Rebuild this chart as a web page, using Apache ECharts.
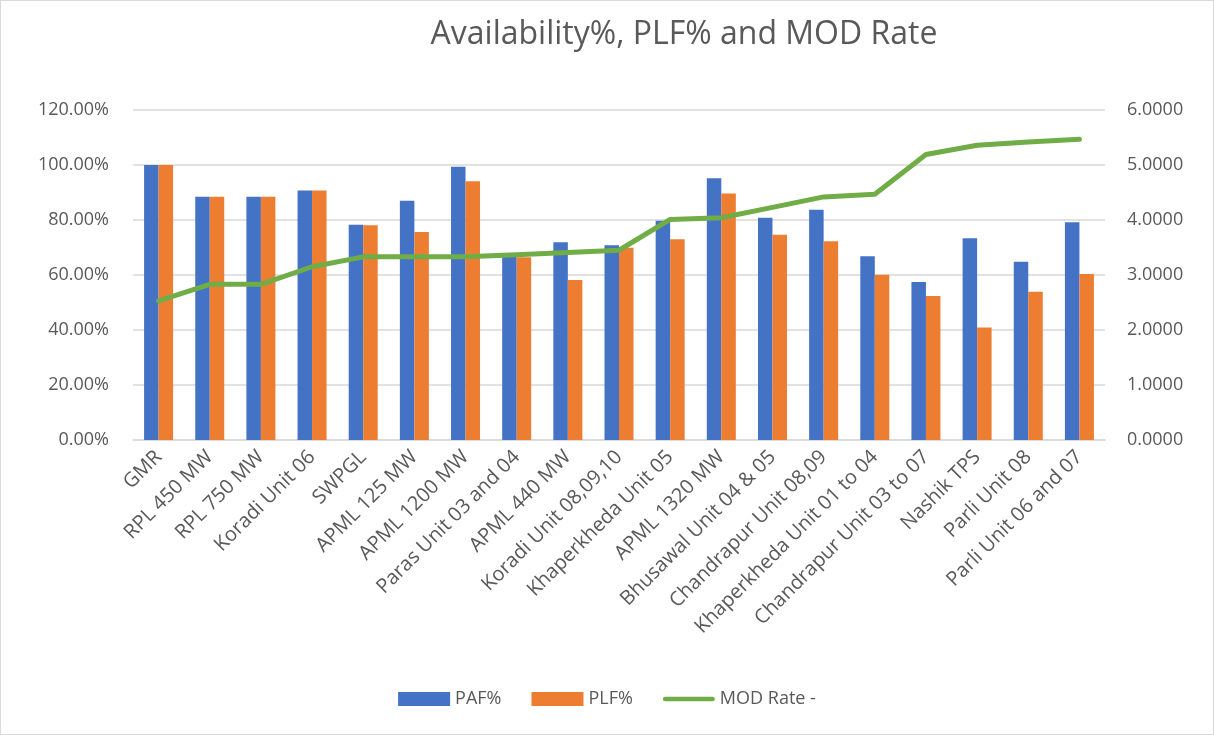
<!DOCTYPE html>
<html>
<head>
<meta charset="utf-8">
<script src="https://cdn.jsdelivr.net/npm/echarts@6/dist/echarts.min.js"></script>
<style>
  html, body { margin: 0; padding: 0; background: #fff; }
  #main { width: 1212px; height: 733px; border: 1px solid #d9d9d9; }
</style>
</head>
<body>
<div id="main"></div>
<script>
// plants, sorted by MOD rate
const categories = [
  'GMR', 'RPL 450 MW', 'RPL 750 MW', 'Koradi Unit 06', 'SWPGL', 'APML 125 MW',
  'APML 1200 MW', 'Paras Unit 03 and 04', 'APML 440 MW', 'Koradi Unit 08,09,10',
  'Khaperkheda Unit 05', 'APML 1320 MW', 'Bhusawal Unit 04 & 05', 'Chandrapur Unit 08,09',
  'Khaperkheda Unit 01 to 04', 'Chandrapur Unit 03 to 07', 'Nashik TPS', 'Parli Unit 08',
  'Parli Unit 06 and 07'
];
// values in fraction (1 = 100%)
const pafValues = [1.000, 0.885, 0.885, 0.907, 0.783, 0.870, 0.994, 0.668, 0.719, 0.708,
  0.797, 0.952, 0.808, 0.837, 0.668, 0.575, 0.734, 0.648, 0.792];
const plfValues = [1.000, 0.885, 0.885, 0.907, 0.781, 0.756, 0.941, 0.665, 0.582, 0.699,
  0.730, 0.896, 0.746, 0.723, 0.601, 0.524, 0.409, 0.539, 0.604];
const modRate = [2.53, 2.83, 2.83, 3.15, 3.33, 3.33, 3.33, 3.37, 3.41, 3.45,
  4.01, 4.04, 4.23, 4.42, 4.47, 5.19, 5.36, 5.42, 5.47];

const textColor = '#595959';
const fontFamily = 'Open Sans, sans-serif';
// thin rounded bar used as the legend icon of the line
const lineIcon = 'path://M2.5,0 L54.5,0 A2.5,2.5 0 0 1 54.5,5 L2.5,5 A2.5,2.5 0 0 1 2.5,0 Z';

const chart = echarts.init(document.getElementById('main'));

const option = {
  animation: false,
  title: {
    text: 'Availability%, PLF% and MOD Rate',
    left: 678,
    top: 13,
    textAlign: 'center',
    textStyle: { color: textColor, fontSize: 32, fontWeight: 'normal', fontFamily: fontFamily }
  },
  legend: {
    bottom: 21,
    left: 'center',
    itemGap: 30,
    itemWidth: 52,
    itemHeight: 14,
    textStyle: { color: textColor, fontSize: 18, fontFamily: fontFamily },
    data: [
      { name: 'PAF%', icon: 'rect' },
      { name: 'PLF%', icon: 'rect' },
      { name: 'MOD Rate -', icon: lineIcon, itemStyle: { color: '#70AD47' } }
    ]
  },
  grid: { left: 132, right: 108, top: 109, bottom: 294 },
  xAxis: {
    type: 'category',
    data: categories,
    axisLine: { lineStyle: { color: '#d9d9d9', width: 1.5 } },
    axisTick: { show: false },
    axisLabel: {
      rotate: 45,
      interval: 0,
      margin: 14,
      color: textColor,
      fontSize: 20,
      fontFamily: fontFamily
    }
  },
  yAxis: [
    {
      type: 'value',
      min: 0,
      max: 1.2,
      interval: 0.2,
      axisLine: { show: false },
      axisTick: { show: false },
      splitLine: { lineStyle: { color: '#d9d9d9', width: 1.5 } },
      axisLabel: {
        margin: 24,
        color: textColor,
        fontSize: 18,
        fontFamily: fontFamily,
        formatter: v => (v * 100).toFixed(2) + '%'
      }
    },
    {
      type: 'value',
      min: 0,
      max: 6,
      interval: 1,
      axisLine: { show: false },
      axisTick: { show: false },
      splitLine: { show: false },
      axisLabel: {
        margin: 22,
        color: textColor,
        fontSize: 18,
        fontFamily: fontFamily,
        formatter: v => v.toFixed(4)
      }
    }
  ],
  series: [
    {
      name: 'PAF%',
      type: 'bar',
      data: pafValues,
      barWidth: 14.5,
      barGap: '0%',
      itemStyle: { color: '#4472C4' }
    },
    {
      name: 'PLF%',
      type: 'bar',
      data: plfValues,
      barWidth: 14.5,
      itemStyle: { color: '#ED7D31' }
    },
    {
      name: 'MOD Rate -',
      type: 'line',
      yAxisIndex: 1,
      data: modRate,
      symbol: 'none',
      lineStyle: { color: '#70AD47', width: 5, cap: 'round', join: 'round' },
      itemStyle: { color: '#70AD47' }
    }
  ]
};

chart.setOption(option);
</script>
</body>
</html>
